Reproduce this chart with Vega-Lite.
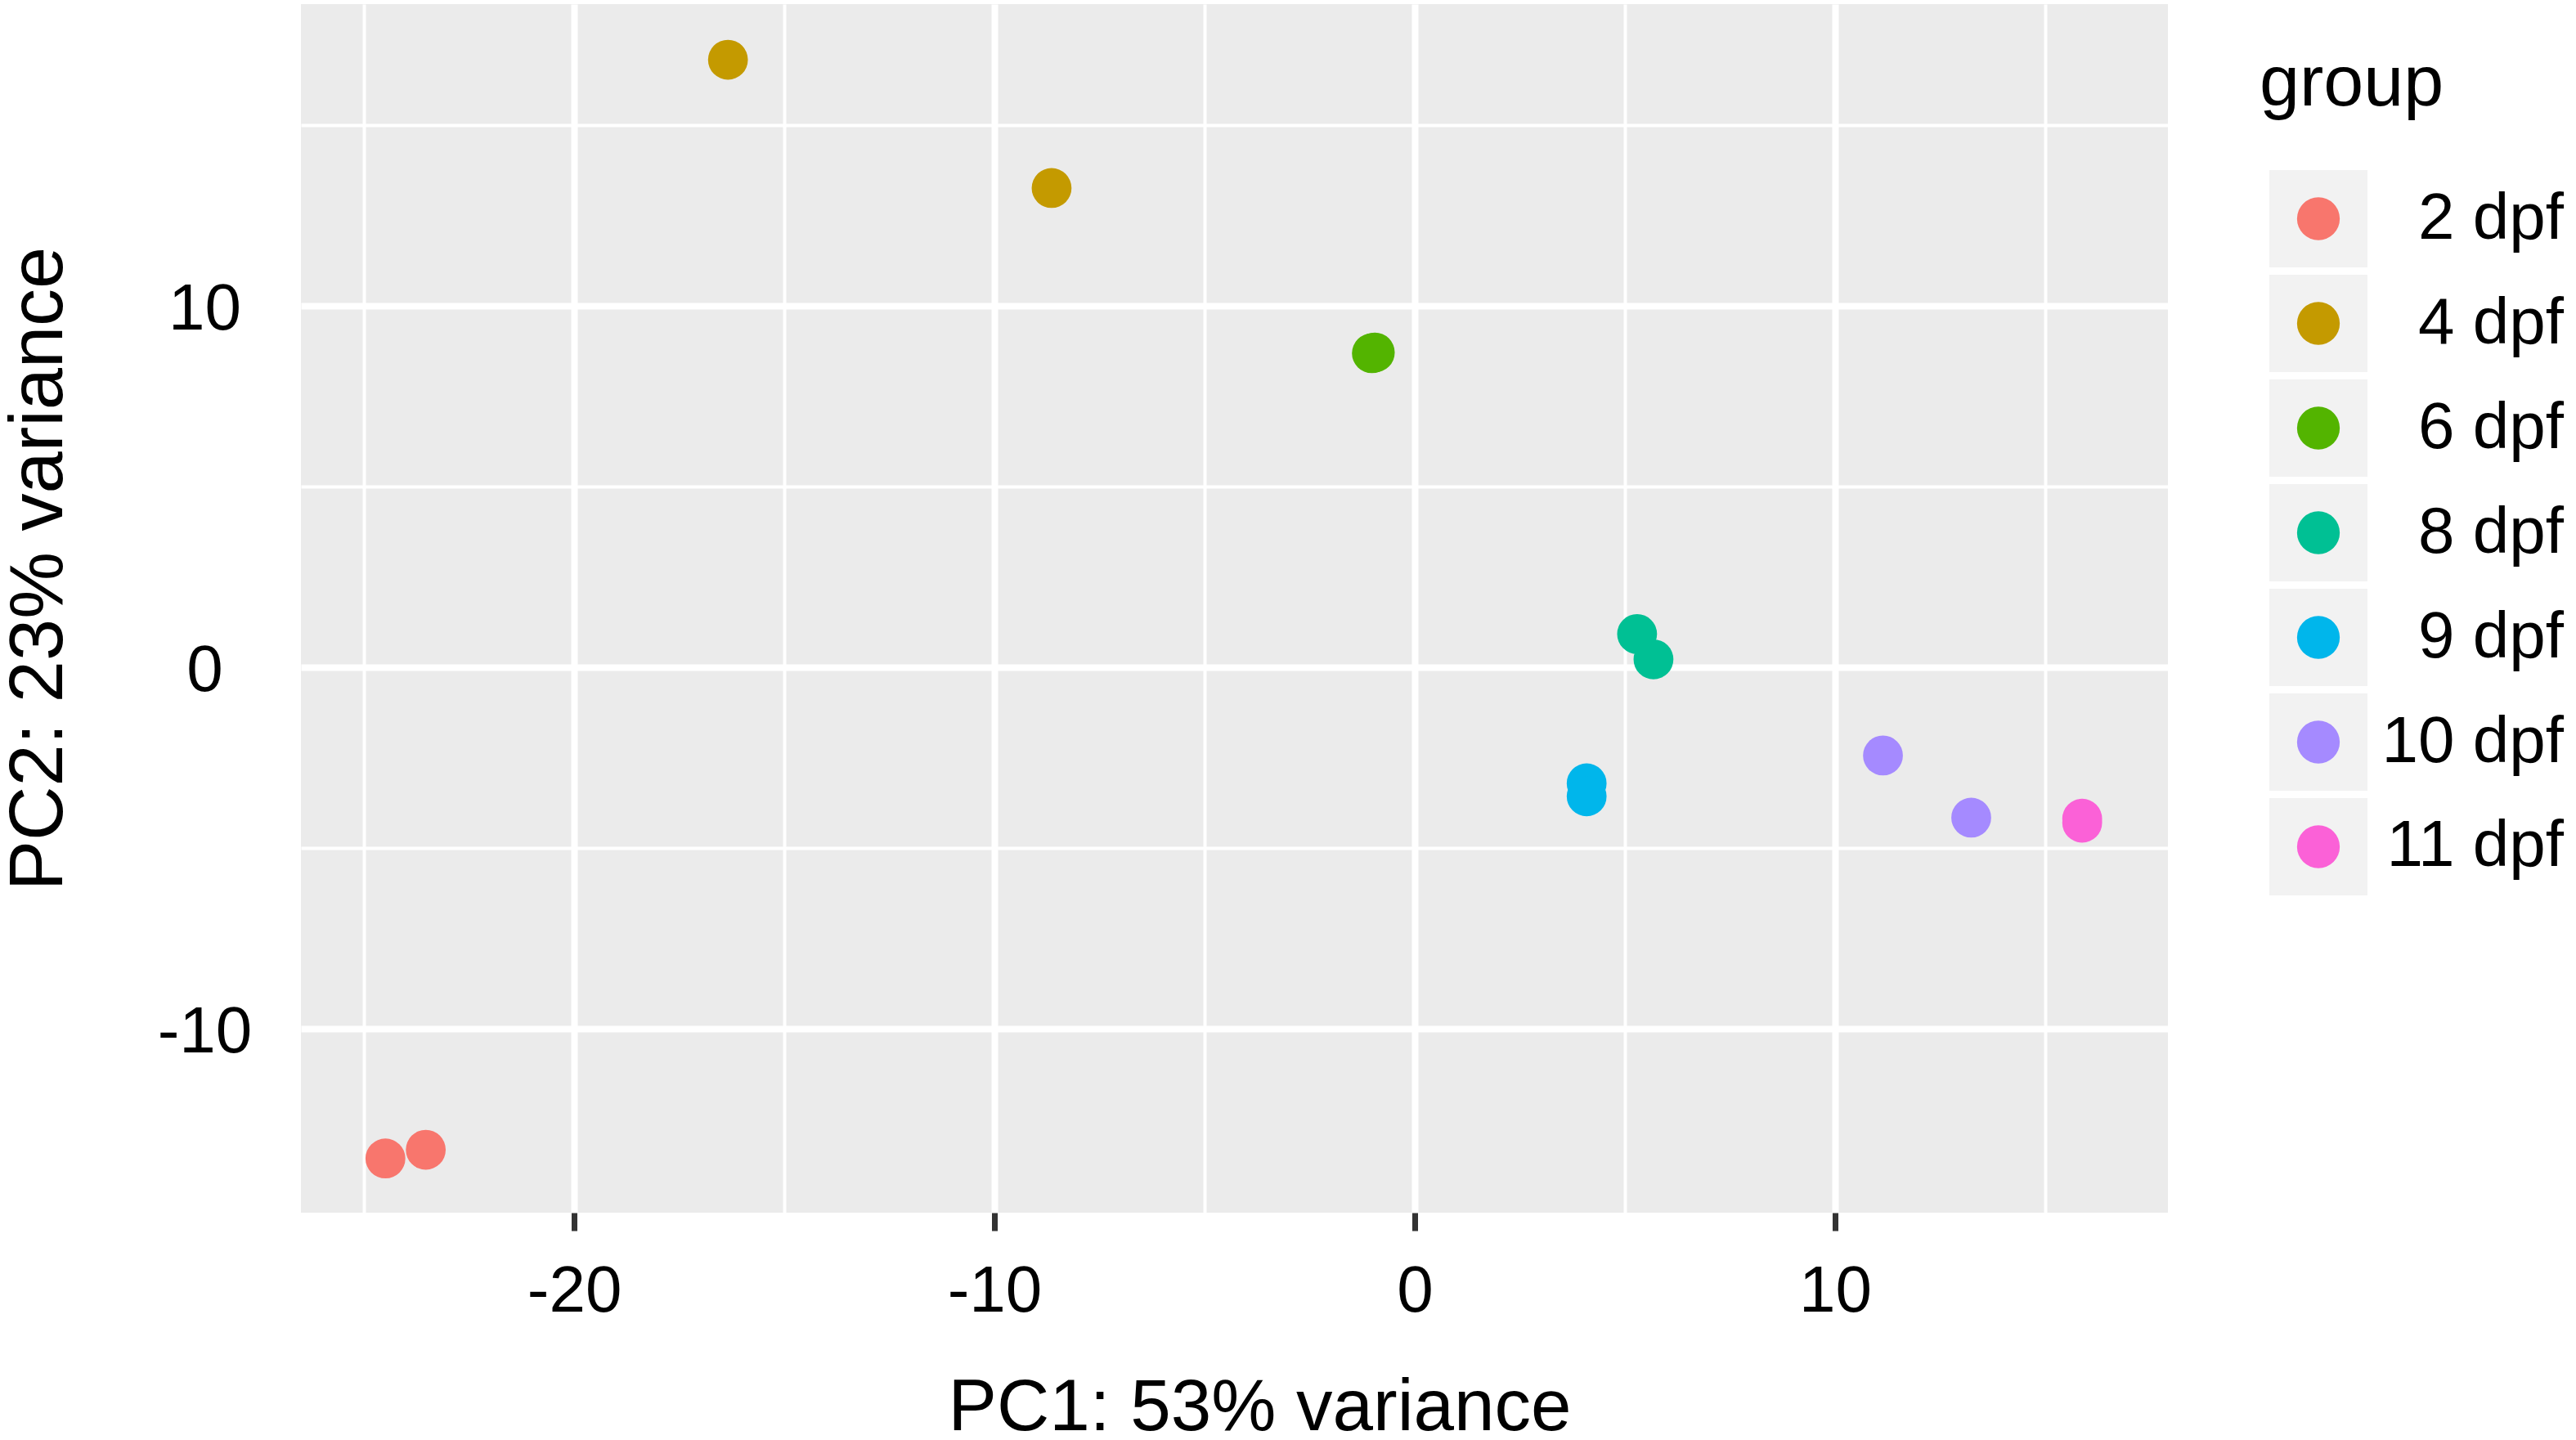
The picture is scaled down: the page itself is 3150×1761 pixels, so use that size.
{
  "$schema": "https://vega.github.io/schema/vega-lite/v6.json",
  "description": "PCA of samples by developmental stage (dpf)",
  "autosize": {"type": "pad"},
  "padding": {"left": 1, "top": 5, "right": 15, "bottom": 0},
  "bounds": "flush",
  "spacing": 124,
  "background": "white",
  "config": {"font": "Liberation Sans", "view": {"stroke": null}},
  "datasets": {
    "pca": [
      {"group": "2 dpf", "PC1": -24.49, "PC2": -13.59},
      {"group": "2 dpf", "PC1": -23.53, "PC2": -13.35},
      {"group": "4 dpf", "PC1": -16.34, "PC2": 16.81},
      {"group": "4 dpf", "PC1": -8.64, "PC2": 13.26},
      {"group": "6 dpf", "PC1": -1.02, "PC2": 8.69},
      {"group": "6 dpf", "PC1": -0.95, "PC2": 8.71},
      {"group": "8 dpf", "PC1": 5.29, "PC2": 0.92},
      {"group": "8 dpf", "PC1": 5.68, "PC2": 0.22},
      {"group": "9 dpf", "PC1": 4.09, "PC2": -3.21},
      {"group": "9 dpf", "PC1": 4.09, "PC2": -3.57},
      {"group": "10 dpf", "PC1": 11.14, "PC2": -2.44},
      {"group": "10 dpf", "PC1": 13.24, "PC2": -4.16},
      {"group": "11 dpf", "PC1": 15.88, "PC2": -4.19},
      {"group": "11 dpf", "PC1": 15.88, "PC2": -4.30}
    ],
    "groups": [
      {"group": "2 dpf"}, {"group": "4 dpf"}, {"group": "6 dpf"}, {"group": "8 dpf"},
      {"group": "9 dpf"}, {"group": "10 dpf"}, {"group": "11 dpf"}
    ]
  },
  "hconcat": [
    {
      "width": 2283,
      "height": 1478,
      "data": {"name": "pca"},
      "view": {"fill": "#EBEBEB", "stroke": null},
      "mark": {"type": "circle", "size": 2376, "opacity": 1},
      "encoding": {
        "x": {
          "field": "PC1",
          "type": "quantitative",
          "scale": {"domain": [-26.5, 17.92], "nice": false, "zero": false},
          "axis": {
            "values": [-25, -20, -15, -10, -5, 0, 5, 10, 15],
            "domain": false,
            "tickSize": 22,
            "tickWidth": 7,
            "tickColor": "#333333",
            "tickOpacity": {"condition": {"test": "datum.value % 10 === 0", "value": 1}, "value": 0},
            "labelExpr": "datum.value % 10 === 0 ? '' + datum.value : ''",
            "labelFontSize": 80,
            "labelColor": "black",
            "labelPadding": 98,
            "labelBaseline": "alphabetic",
            "labelOverlap": false,
            "labelFlush": false,
            "grid": true,
            "gridColor": "white",
            "gridWidth": {"condition": {"test": "datum.value % 10 === 0", "value": 8}, "value": 4},
            "title": "PC1: 53% variance",
            "titleFontSize": 89,
            "titleFontWeight": "normal",
            "titleColor": "black",
            "titleBaseline": "alphabetic",
            "titleX": 1172,
            "titleY": 265
          }
        },
        "y": {
          "field": "PC2",
          "type": "quantitative",
          "scale": {"domain": [-15.09, 18.35], "nice": false, "zero": false},
          "axis": {
            "values": [-10, -5, 0, 5, 10, 15],
            "domain": false,
            "ticks": false,
            "tickSize": 0,
            "labelExpr": "datum.value % 10 === 0 ? '' + datum.value : ''",
            "labelFontSize": 80,
            "labelColor": "black",
            "labelAlign": "center",
            "labelPadding": 118,
            "labelBaseline": "alphabetic",
            "labelOffset": 28,
            "labelOverlap": false,
            "labelFlush": false,
            "grid": true,
            "gridColor": "white",
            "gridWidth": {"condition": {"test": "datum.value % 10 === 0", "value": 8}, "value": 4},
            "title": "PC2: 23% variance",
            "titleFontSize": 92,
            "titleFontWeight": "normal",
            "titleColor": "black",
            "titleBaseline": "alphabetic",
            "titleX": -293,
            "titleY": 690
          }
        },
        "color": {
          "field": "group",
          "type": "nominal",
          "scale": {
            "domain": ["2 dpf", "4 dpf", "6 dpf", "8 dpf", "9 dpf", "10 dpf", "11 dpf"],
            "range": ["#F8766D", "#C49A00", "#53B400", "#00C094", "#00B6EB", "#A58AFF", "#FB61D7"]
          },
          "legend": null
        }
      }
    },
    {
      "width": 360,
      "height": 1090,
      "data": {"name": "groups"},
      "view": {"stroke": null},
      "title": {
        "text": "group",
        "anchor": "start",
        "frame": "group",
        "dx": -12,
        "offset": -212,
        "baseline": "alphabetic",
        "fontSize": 88,
        "fontWeight": "normal",
        "color": "black"
      },
      "encoding": {
        "y": {
          "field": "group",
          "type": "nominal",
          "sort": null,
          "scale": {
            "domain": ["2 dpf", "4 dpf", "6 dpf", "8 dpf", "9 dpf", "10 dpf", "11 dpf"],
            "paddingInner": 0.0703,
            "paddingOuter": 0.793,
            "align": 1
          },
          "axis": null
        }
      },
      "layer": [
        {
          "mark": {"type": "rect", "color": "#F2F2F2"},
          "encoding": {
            "x": {
              "datum": "key",
              "type": "nominal",
              "scale": {"type": "band", "domain": ["key"], "paddingInner": 0, "paddingOuter": 1.093, "align": 0},
              "axis": null
            }
          }
        },
        {
          "mark": {"type": "circle", "size": 2734, "opacity": 1},
          "encoding": {
            "x": {"datum": "key", "type": "nominal"},
            "color": {"field": "group", "type": "nominal", "legend": null}
          }
        },
        {
          "mark": {"type": "text", "align": "right", "baseline": "middle", "fontSize": 80, "color": "black"},
          "encoding": {
            "x": {"value": "width"},
            "text": {"field": "group"}
          }
        }
      ]
    }
  ]
}
